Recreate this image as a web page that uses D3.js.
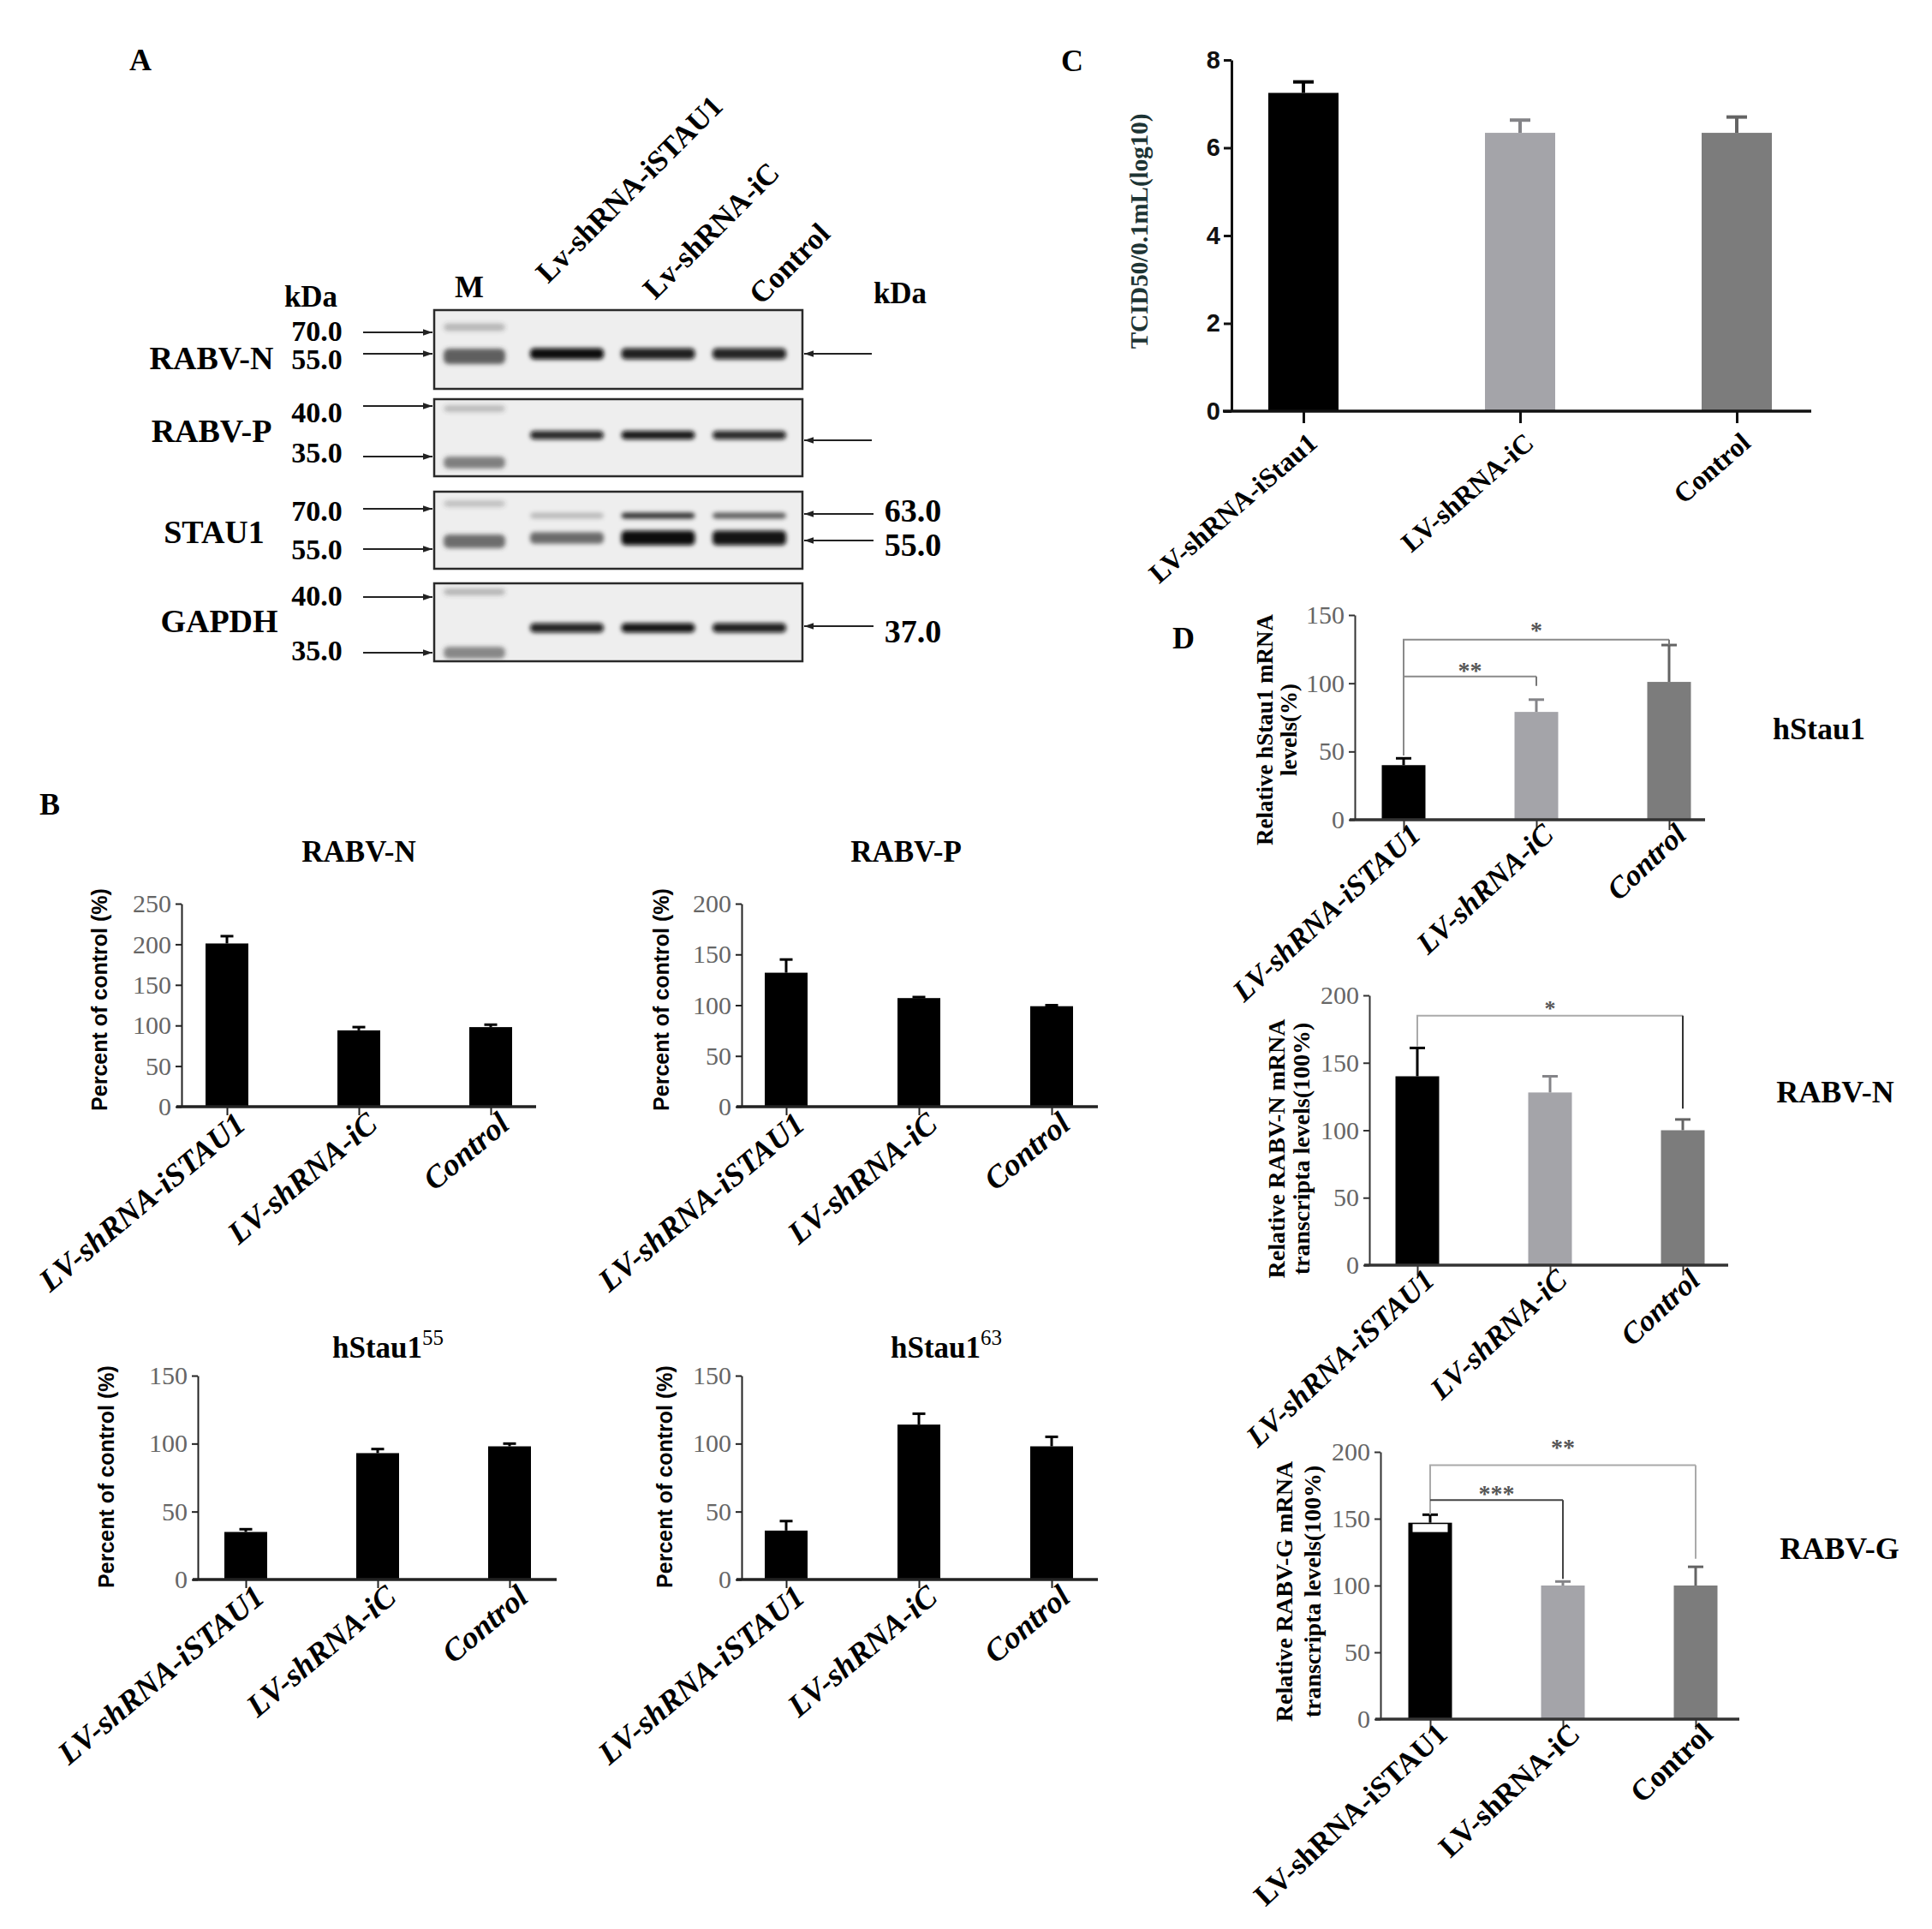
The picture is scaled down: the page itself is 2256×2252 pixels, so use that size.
<!DOCTYPE html>
<html><head><meta charset="utf-8">
<script src="https://cdn.jsdelivr.net/npm/d3@7"></script>
<style>body{margin:0;background:#fff}svg{display:block}</style>
</head><body><svg id="c" width="2256" height="2252"></svg>
<script>
// ---------------- DATA ----------------
const groupsB = ["LV-shRNA-iSTAU1", "LV-shRNA-iC", "Control"];
const groupsC = ["LV-shRNA-iStau1", "LV-shRNA-iC", "Control"];
const laneLabels = ["Lv-shRNA-iSTAU1", "Lv-shRNA-iC", "Control"];

// Panel A (western blot) – relative band intensities
const blotNames = ["RABV-N", "RABV-P", "STAU1", "GAPDH"];
const markerLabels = [["70.0", "55.0"], ["40.0", "35.0"], ["70.0", "55.0"], ["40.0", "35.0"]];
const sizeLabels = [[], [], ["63.0", "55.0"], ["37.0"]];
const markerIntensity = [[0.30, 0.80], [0.28, 0.62], [0.25, 0.72], [0.32, 0.58]];
const bandIntensity = [
  [[1.00, 0.92, 0.90]],
  [[0.88, 0.95, 0.88]],
  [[0.22, 0.80, 0.62], [0.55, 1.00, 0.97]],
  [[0.90, 0.97, 0.92]]
];

// Panel B – percent of control
const rabvNMean = [201, 94, 98];
const rabvNErr = [210, 98, 101];
const rabvPMean = [132, 107, 99];
const rabvPErr = [145, 108, 100];
const hStau55Mean = [35, 93, 98];
const hStau55Err = [37, 96, 100];
const hStau63Mean = [36, 114, 98];
const hStau63Err = [43, 122, 105];
const ticksB250 = [0, 50, 100, 150, 200, 250];
const ticksB200 = [0, 50, 100, 150, 200];
const ticksB150 = [0, 50, 100, 150];

// Panel C – TCID50/0.1mL (log10)
const tcidMean = [7.25, 6.34, 6.34];
const tcidErr = [7.5, 6.63, 6.7];
const ticksC = [0, 2, 4, 6, 8];

// Panel D – relative mRNA levels
const hStauMrnaMean = [40, 79, 101];
const hStauMrnaErr = [45, 88, 128];
const rabvNMrnaMean = [140, 128, 100];
const rabvNMrnaErr = [161, 140, 108];
const rabvGMrnaMean = [147, 100, 100];
const rabvGMrnaErr = [153, 103, 114];
const rabvGWhiteStrip = [140, 146];
const ticksD150 = [0, 50, 100, 150];
const ticksD200 = [0, 50, 100, 150, 200];
const hStauBrackets = [
  {from: 0, to: 2, level: 132, dropL: 47, dropR: 128, label: "*"},
  {from: 0, to: 1, level: 105, dropL: 105, dropR: 98, label: "**"}
];
const rabvNBrackets = [
  {from: 0, to: 2, level: 185, dropL: 162, dropR: 116, label: "*"}
];
const rabvGBrackets = [
  {from: 0, to: 2, level: 190, dropL: 153, dropR: 120, label: "**"},
  {from: 0, to: 1, level: 164, dropL: 164, dropR: 105, label: "***"}
];

// ---------------- STYLE / LAYOUT ----------------
const SERIF = "'Liberation Serif','Times New Roman',serif";
const SANS = "'Liberation Sans',Arial,sans-serif";
const BLACK = "#000000", LIGHT = "#a4a4a9", MID = "#7c7c7c";
const colorsB = [BLACK, BLACK, BLACK];
const colorsCD = [BLACK, LIGHT, MID];

const svg = d3.select("#c");
const defs = svg.append("defs");
defs.append("filter").attr("id", "blur").attr("x", "-30%").attr("y", "-100%").attr("width", "160%").attr("height", "300%")
  .append("feGaussianBlur").attr("stdDeviation", 2.6);
defs.append("marker").attr("id", "ah").attr("viewBox", "0 0 10 10").attr("refX", 10).attr("refY", 5)
  .attr("markerWidth", 5).attr("markerHeight", 5).attr("orient", "auto-start-reverse")
  .append("path").attr("d", "M0,1.5 L10,5 L0,8.5 Z").attr("fill", "#222");

function txt(t, x, y, o = {}) {
  const e = svg.append("text").attr("x", x).attr("y", y).text(t)
    .attr("font-family", o.family || SERIF).attr("font-weight", o.weight || "bold")
    .attr("font-size", o.size || 30).attr("text-anchor", o.anchor || "start")
    .attr("fill", o.fill || "#000");
  if (o.style) e.attr("font-style", o.style);
  if (o.rotate) e.attr("transform", `rotate(${o.rotate},${x},${y})`);
  return e;
}

function barChart(o) {
  const g = svg.append("g");
  const x = d3.scalePoint().domain(o.cats).range([o.c1, o.c3]);
  const y = d3.scaleLinear().domain([0, o.max]).range([o.yBot, o.yTop]);
  const rows = o.cats.map((c, i) => ({c, m: o.mean[i], e: o.err[i], col: o.colors[i]}));
  g.selectAll(".bar").data(rows).join("rect").attr("class", "bar")
    .attr("x", d => x(d.c) - o.barW / 2).attr("width", o.barW)
    .attr("y", d => y(d.m)).attr("height", d => y(0) - y(d.m)).attr("fill", d => d.col);
  const eg = g.selectAll(".err").data(rows).join("g").attr("class", "err")
    .attr("stroke", d => d.col === BLACK ? "#000" : d3.color(d.col).darker(0.6)).attr("stroke-width", o.errW);
  eg.append("line").attr("x1", d => x(d.c)).attr("x2", d => x(d.c)).attr("y1", d => y(d.m)).attr("y2", d => y(d.e));
  eg.append("line").attr("x1", d => x(d.c) - o.capW / 2).attr("x2", d => x(d.c) + o.capW / 2)
    .attr("y1", d => y(d.e)).attr("y2", d => y(d.e));
  const ya = g.append("g").attr("transform", `translate(${o.ax},0)`)
    .call(d3.axisLeft(y).tickValues(o.ticks).tickSize(o.tickLen).tickSizeOuter(0).tickPadding(o.tickPad));
  ya.select(".domain").attr("stroke", o.axisColor).attr("stroke-width", o.axisW);
  ya.selectAll(".tick line").attr("stroke", o.axisColor).attr("stroke-width", o.axisW);
  ya.selectAll(".tick text").attr("font-family", o.tickFamily).attr("font-size", o.tickSize)
    .attr("font-weight", o.tickWeight).attr("fill", o.tickColor);
  g.append("line").attr("x1", o.ax - o.xAxisExt).attr("x2", o.ex).attr("y1", o.yBot).attr("y2", o.yBot)
    .attr("stroke", o.axisColor).attr("stroke-width", o.xAxisW);
  const xa = g.append("g").attr("transform", `translate(0,${o.yBot})`)
    .call(d3.axisBottom(x).tickSize(o.xTickLen).tickFormat("").tickSizeOuter(0));
  xa.select(".domain").remove();
  xa.selectAll(".tick line").attr("stroke", o.axisColor).attr("stroke-width", o.axisW);
  g.selectAll(".xl").data(o.labels).join("text").attr("class", "xl")
    .attr("transform", (d, i) => `translate(${x(o.cats[i]) + o.lblDx},${o.yBot + o.lblDy}) rotate(${o.rot})`)
    .attr("text-anchor", "end").attr("font-family", SERIF).attr("font-weight", "bold")
    .attr("font-style", o.italic ? "italic" : "normal").attr("font-size", o.lblSize).text(d => d);
  return {x, y, g};
}

function brackets(ch, cats, list, o) {
  list.forEach((b, i) => {
    const x1 = ch.x(cats[b.from]), x2 = ch.x(cats[b.to]);
    ch.g.append("path")
      .attr("d", `M${x1},${ch.y(b.dropL)} V${ch.y(b.level)} H${x2}`)
      .attr("fill", "none").attr("stroke", o.hColor[i]).attr("stroke-width", 2);
    ch.g.append("path")
      .attr("d", `M${x2},${ch.y(b.level)} V${ch.y(b.dropR)}`)
      .attr("fill", "none").attr("stroke", o.vColor[i]).attr("stroke-width", 2);
    ch.g.append("text").attr("x", (x1 + x2) / 2).attr("y", ch.y(b.level) + o.starDy[i])
      .attr("text-anchor", "middle").attr("font-family", SERIF).attr("font-weight", "bold")
      .attr("font-size", o.starSize).attr("fill", "#555").text(b.label);
  });
}

// ---------------- PANEL LETTERS ----------------
txt("A", 151, 82, {size: 36});
txt("B", 46, 951, {size: 36});
txt("C", 1239, 83, {size: 36});
txt("D", 1369, 757, {size: 36});

// ---------------- PANEL A ----------------
const boxX0 = 507, boxX1 = 937;
const boxY = [[362, 454], [466, 556], [574, 664], [681, 772]];
const markerArrowY = [[388, 413], [474, 533], [594, 641], [697, 762]];
const markerTextY = [[398, 431], [493, 540], [608, 653], [707, 771]];
const markerBandY = [[382, 416], [477, 540], [588, 632], [691, 762]];
const markerBandH = [[9, 18], [8, 14], [8, 16], [8, 14]];
const sampleBandY = [[413], [508], [602, 628], [733]];
const sampleBandH = [[13], [10], [7, 17], [11]];
const rightArrowY = [[413], [514], [600, 631], [731]];
const rightTextY = [[], [], [609, 649], [750]];
const markerX = 554;
const lane = d3.scalePoint().domain(laneLabels).range([662, 875]);
const bandW = 86;

txt("kDa", 363, 358, {size: 35, anchor: "middle"});
txt("M", 548, 347, {size: 36, anchor: "middle"});
txt("kDa", 1051, 354, {size: 35, anchor: "middle"});
const laneStart = [[640, 332], [765, 351], [889, 357]];
laneLabels.forEach((l, i) => txt(l, laneStart[i][0], laneStart[i][1], {size: 35, rotate: -45}));

const blotG = svg.append("g");
blotNames.forEach((name, i) => {
  const [y0, y1] = boxY[i];
  blotG.append("rect").attr("x", boxX0).attr("y", y0).attr("width", boxX1 - boxX0).attr("height", y1 - y0)
    .attr("fill", "#eeeeee").attr("stroke", "#2a2a2a").attr("stroke-width", 2.5);
  markerIntensity[i].forEach((v, j) => {
    const h = markerBandH[i][j];
    blotG.append("rect").attr("x", markerX - 36).attr("width", 72)
      .attr("y", markerBandY[i][j] - h / 2).attr("height", h).attr("rx", 6)
      .attr("fill", "#3c3c3c").attr("fill-opacity", v).attr("filter", "url(#blur)");
  });
  bandIntensity[i].forEach((row, r) => {
    row.forEach((v, k) => {
      const h = sampleBandH[i][r] * (r === 1 && i === 2 ? (0.55 + 0.45 * v) : 1);
      blotG.append("rect").attr("x", lane(laneLabels[k]) - bandW / 2).attr("width", bandW)
        .attr("y", sampleBandY[i][r] - h / 2).attr("height", h).attr("rx", 5)
        .attr("fill", "#080808").attr("fill-opacity", v).attr("filter", "url(#blur)");
    });
  });
  markerLabels[i].forEach((m, j) => {
    const yy = markerArrowY[i][j];
    txt(m, 370, markerTextY[i][j], {size: 34, anchor: "middle"});
    svg.append("line").attr("x1", 424).attr("x2", 505).attr("y1", yy).attr("y2", yy)
      .attr("stroke", "#222").attr("stroke-width", 2.2).attr("marker-end", "url(#ah)");
  });
  rightArrowY[i].forEach((yy, j) => {
    const lab = sizeLabels[i][j];
    svg.append("line").attr("x1", lab ? 1020 : 1018).attr("x2", 939).attr("y1", yy).attr("y2", yy)
      .attr("stroke", "#222").attr("stroke-width", 2.2).attr("marker-end", "url(#ah)");
    if (lab) txt(lab, 1066, rightTextY[i][j], {size: 38, anchor: "middle"});
  });
});
txt("RABV-N", 247, 431, {size: 38, anchor: "middle"});
txt("RABV-P", 247, 516, {size: 38, anchor: "middle"});
txt("STAU1", 250, 634, {size: 38, anchor: "middle"});
txt("GAPDH", 256, 738, {size: 38, anchor: "middle"});

// ---------------- PANEL B ----------------
const bCommon = {
  cats: groupsB, labels: groupsB, colors: colorsB, barW: 50, capW: 15, errW: 3,
  tickLen: 7, tickPad: 5, axisColor: "#222", axisW: 2, xAxisW: 3.5, xAxisExt: 6, xTickLen: 10,
  tickFamily: SERIF, tickSize: 30, tickWeight: "normal", tickColor: "#666",
  lblDx: 24, lblDy: 24, rot: -40, italic: true, lblSize: 37
};
barChart({...bCommon, ax: 212, ex: 626, c1: 265, c3: 573, yTop: 1055, yBot: 1292, max: 250,
  ticks: ticksB250, mean: rabvNMean, err: rabvNErr});
barChart({...bCommon, ax: 866, ex: 1282, c1: 918, c3: 1228, yTop: 1055, yBot: 1292, max: 200,
  ticks: ticksB200, mean: rabvPMean, err: rabvPErr});
barChart({...bCommon, ax: 231, ex: 650, c1: 287, c3: 595, yTop: 1606, yBot: 1844, max: 150,
  ticks: ticksB150, mean: hStau55Mean, err: hStau55Err});
barChart({...bCommon, ax: 866, ex: 1282, c1: 918, c3: 1228, yTop: 1606, yBot: 1844, max: 150,
  ticks: ticksB150, mean: hStau63Mean, err: hStau63Err});

txt("RABV-N", 419, 1006, {size: 35, anchor: "middle"});
txt("RABV-P", 1058, 1006, {size: 35, anchor: "middle"});
const t55 = txt("hStau1", 453, 1585, {size: 35, anchor: "middle"});
t55.append("tspan").attr("dy", -15).attr("font-size", 25).attr("font-weight", "normal").text("55");
const t63 = txt("hStau1", 1105, 1585, {size: 35, anchor: "middle"});
t63.append("tspan").attr("dy", -15).attr("font-size", 25).attr("font-weight", "normal").text("63");
[[125, 1167], [781, 1167], [133, 1724], [785, 1724]].forEach(([x, y]) =>
  txt("Percent of control (%)", x, y, {size: 25, anchor: "middle", family: SANS, rotate: -90}));

// ---------------- PANEL C ----------------
barChart({
  cats: groupsC, labels: groupsC, colors: colorsCD, barW: 82, capW: 24, errW: 4,
  ax: 1438, ex: 2115, c1: 1522, c3: 2028, yTop: 70, yBot: 480, max: 8, ticks: ticksC,
  mean: tcidMean, err: tcidErr,
  tickLen: 9, tickPad: 4, axisColor: "#111", axisW: 3, xAxisW: 3.5, xAxisExt: 10, xTickLen: 14,
  tickFamily: SANS, tickSize: 29, tickWeight: "bold", tickColor: "#111",
  lblDx: 18, lblDy: 40, rot: -41, italic: false, lblSize: 32
});
txt("TCID50/0.1mL(log10)", 1340, 270, {size: 29, anchor: "middle", rotate: -90, fill: "#1d3434"});

// ---------------- PANEL D ----------------
const dCommon = {
  cats: groupsB, labels: groupsB, colors: colorsCD, barW: 51, capW: 18, errW: 3,
  tickLen: 7, tickPad: 5, axisColor: "#333", axisW: 2, xAxisW: 3.5, xAxisExt: 6, xTickLen: 12,
  tickFamily: SERIF, tickSize: 30, tickWeight: "normal", tickColor: "#666",
  lblDx: 22, lblDy: 20, rot: -43, italic: true, lblSize: 35
};
const d1 = barChart({...dCommon, ax: 1582, ex: 1991, c1: 1639, c3: 1949, yTop: 718, yBot: 957, max: 150,
  ticks: ticksD150, mean: hStauMrnaMean, err: hStauMrnaErr});
brackets(d1, groupsB, hStauBrackets, {hColor: ["#8a8a8a", "#8a8a8a"], vColor: ["#777", "#777"], starDy: [-2, 2], starSize: 28});
const d2 = barChart({...dCommon, ax: 1599, ex: 2018, c1: 1655, c3: 1965, yTop: 1162, yBot: 1477, max: 200,
  ticks: ticksD200, mean: rabvNMrnaMean, err: rabvNMrnaErr});
brackets(d2, groupsB, rabvNBrackets, {hColor: ["#aaa"], vColor: ["#333"], starDy: [0], starSize: 26});
const d3c = barChart({...dCommon, italic: false, ax: 1612, ex: 2031, c1: 1670, c3: 1980, yTop: 1695, yBot: 2007, max: 200,
  ticks: ticksD200, mean: rabvGMrnaMean, err: rabvGMrnaErr});
d3c.g.append("rect").attr("x", d3c.x(groupsB[0]) - 51 / 2 + 5).attr("width", 51 - 10)
  .attr("y", d3c.y(rabvGWhiteStrip[1])).attr("height", d3c.y(rabvGWhiteStrip[0]) - d3c.y(rabvGWhiteStrip[1]))
  .attr("fill", "#fff");
brackets(d3c, groupsB, rabvGBrackets, {hColor: ["#aaa", "#444"], vColor: ["#aaa", "#444"], starDy: [-12, 2], starSize: 28});

txt("hStau1", 2124, 863, {size: 36, anchor: "middle"});
txt("RABV-N", 2143, 1287, {size: 36, anchor: "middle"});
txt("RABV-G", 2148, 1820, {size: 36, anchor: "middle"});

txt("Relative hStau1 mRNA", 1486, 852, {size: 27, anchor: "middle", rotate: -90});
txt("levels(%)", 1514, 852, {size: 27, anchor: "middle", rotate: -90});
txt("Relative RABV-N mRNA", 1500, 1341, {size: 28, anchor: "middle", rotate: -90});
txt("transcripta levels(100%)", 1529, 1341, {size: 28, anchor: "middle", rotate: -90});
txt("Relative RABV-G mRNA", 1509, 1858, {size: 28, anchor: "middle", rotate: -90});
txt("transcripta levels(100%)", 1542, 1858, {size: 28, anchor: "middle", rotate: -90});
</script>
</body></html>
